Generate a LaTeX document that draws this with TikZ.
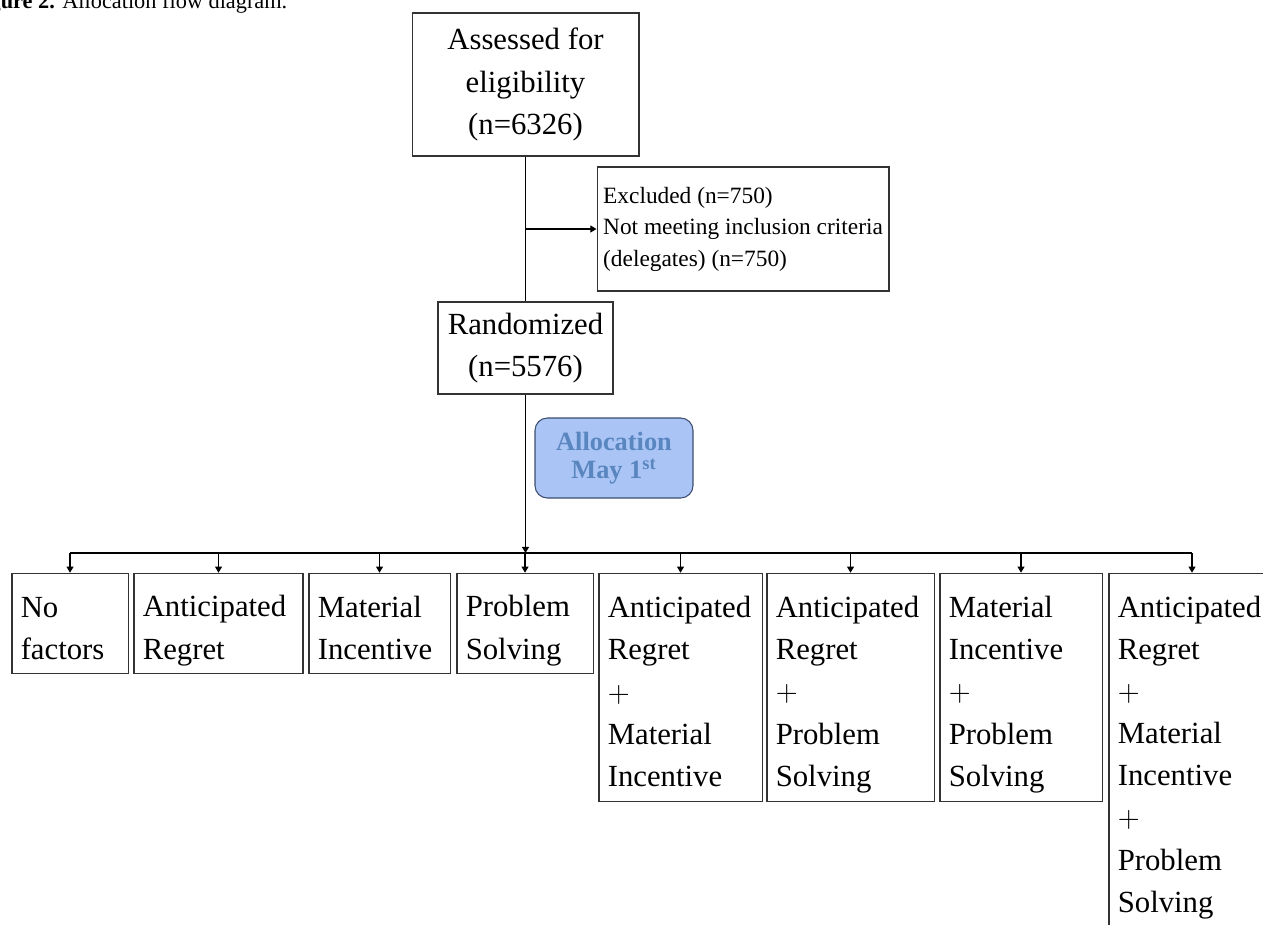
\documentclass[tikz,border=0pt]{standalone}
\usepackage{fontspec}
\setmainfont{Liberation Serif}
\usetikzlibrary{arrows.meta}
\definecolor{allocfill}{HTML}{A9C4F5}
\definecolor{allocdraw}{HTML}{3B4D6E}
\definecolor{alloctext}{HTML}{5A86C0}
\begin{document}
\begin{tikzpicture}[x=0.02cm, y=-0.02cm,
        box/.style = {draw=black!80, line width=0.6pt, font=\fontsize{17.5}{24}\selectfont},
        armbox/.style = {box, anchor=north, align=left, inner xsep=5pt, minimum height=#1,
            execute at begin node={\rule{0pt}{20.5pt}}, execute at end node={\rule[-3.5pt]{0pt}{3.5pt}}},
        arr/.style = {-{Triangle[length=3.5pt,width=4pt]}, line width=0.6pt}]
    \useasboundingbox (0,0) rectangle (1263,924);
    \clip (0,0) rectangle (1263,924);
    % caption, cut at the page edge
    \node[anchor=base west, inner sep=0, font=\fontsize{12.7}{14}\selectfont] (caption) at (62,8) {\llap{\textbf{Figure 2.} }Allocation flow diagram.};
    % enrolment
    \node[box, align=center, minimum width=4.54cm, minimum height=2.86cm] (assess) at (525.5,84.5) {Assessed for\\eligibility\\(n=6326)};
    \node[box, align=left, minimum width=5.84cm, minimum height=2.48cm, font=\fontsize{13.3}{17.9}\selectfont] (excl) at (743,229) {Excluded (n=750)\\Not meeting inclusion criteria\\(delegates) (n=750)};
    \node[box, align=center, minimum width=3.5cm, minimum height=1.84cm] (rand) at (525.5,348) {Randomized\\(n=5576)};
    \node[draw=allocdraw, fill=allocfill, line width=0.6pt, rounded corners=7pt, align=center, text=alloctext, minimum width=3.16cm, minimum height=1.6cm, font=\fontsize{15}{16}\selectfont\bfseries] (alloc) at (614,458) {Allocation\\May 1\textsuperscript{st}};
    \coordinate (bus) at (525.5,553);
    % arms
    \node[armbox=2cm, text width=1.97cm] (nofac) at (70,572.7) {No\\factors};
    \node[armbox=2cm, text width=3.03cm] (regret) at (218.5,572.7) {Anticipated\\Regret};
    \node[armbox=2cm, text width=2.47cm] (incent) at (379.5,572.7) {Material\\Incentive};
    \node[armbox=2cm, text width=2.37cm] (solve) at (525,572.7) {Problem\\Solving};
    \node[armbox=4.56cm, text width=2.91cm] (regmat) at (680.5,572.7) {Anticipated\\Regret\\$+$\\Material\\Incentive};
    \node[armbox=4.56cm, text width=2.99cm] (regsol) at (850.5,572.7) {Anticipated\\Regret\\$+$\\Problem\\Solving};
    \node[armbox=4.56cm, text width=2.89cm] (matsol) at (1021,572.7) {Material\\Incentive\\$+$\\Problem\\Solving};
    \node[armbox=7.07cm, text width=2.97cm] (allthree) at (1192,572.7) {Anticipated\\Regret\\$+$\\Material\\Incentive\\$+$\\Problem\\Solving};
    % connectors
    \draw[line width=0.6pt] (assess) -- (rand);
    \draw[arr] (assess.south |- excl.west) -- (excl.west);
    \draw[arr] (rand) -- (bus);
    \draw[line width=0.6pt] (nofac.north |- bus) -- (allthree.north |- bus);
    \foreach \arm in {nofac,regret,incent,solve,regmat,regsol,matsol,allthree}
        \draw[arr] (\arm.north |- bus) -- (\arm.north);
\end{tikzpicture}
\end{document}
